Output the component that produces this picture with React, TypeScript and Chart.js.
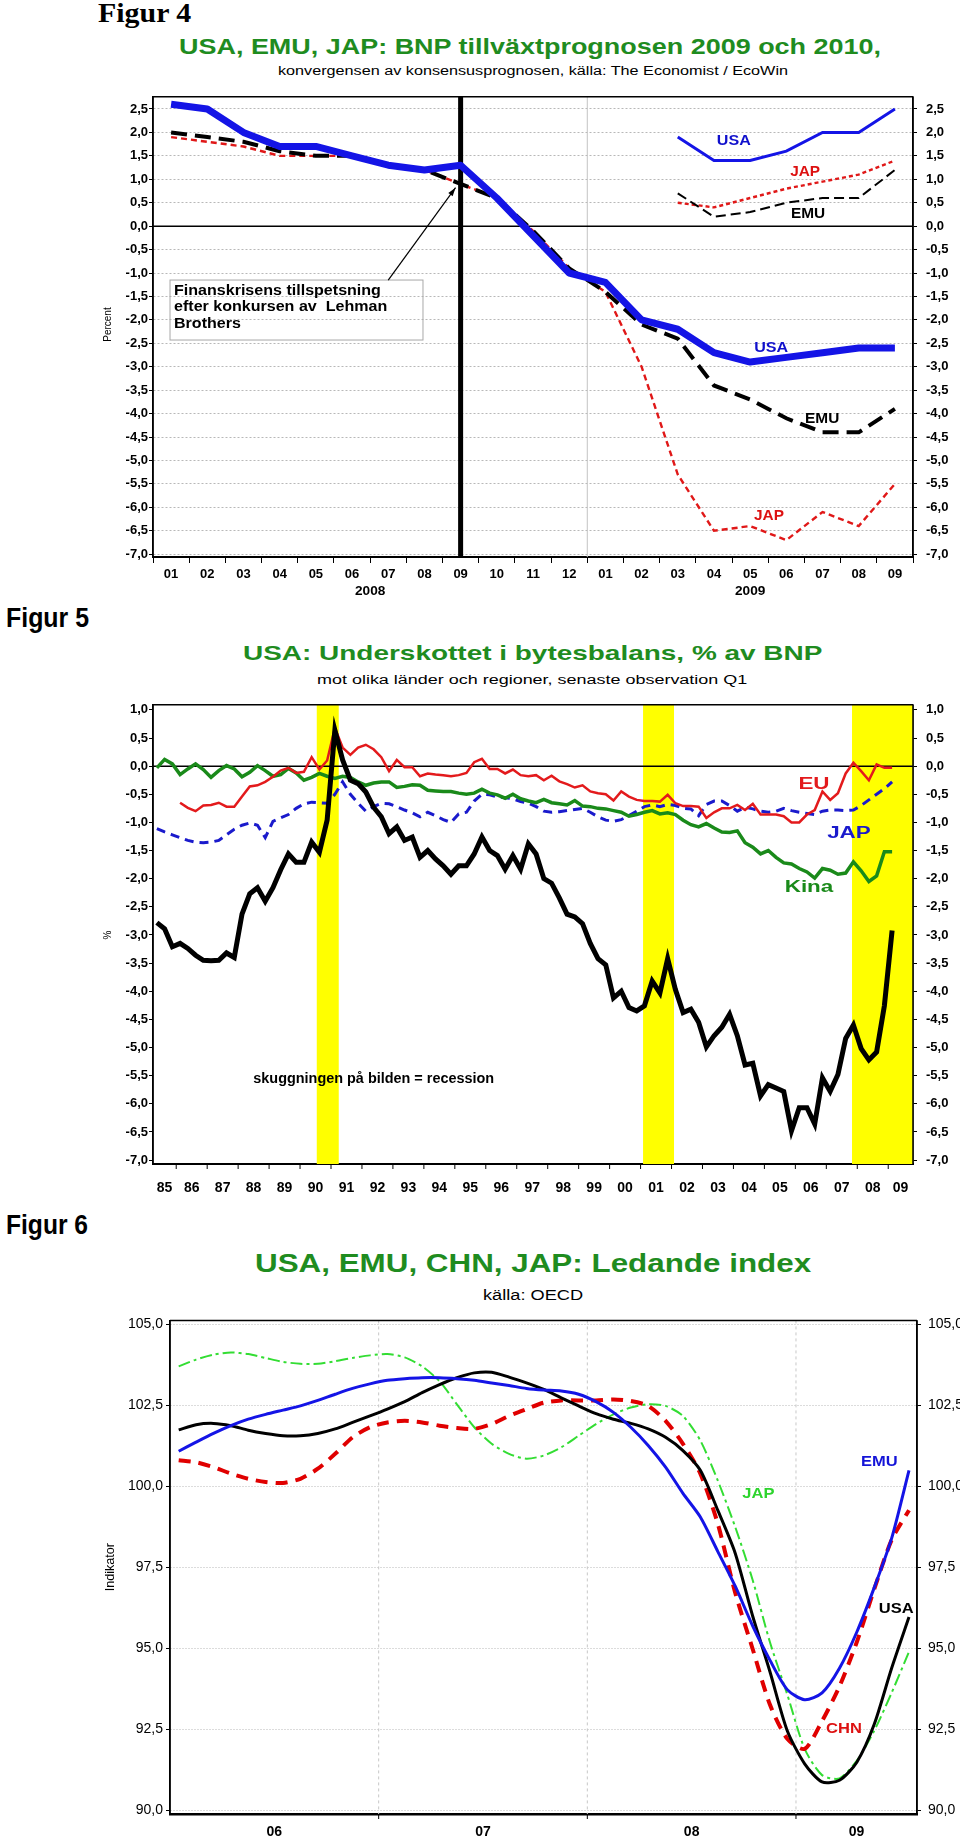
import React, { useEffect, useLayoutEffect, useRef } from 'react';
import { Chart, registerables } from 'chart.js';

Chart.register(...registerables);

const SANS = "'Liberation Sans', Arial, Helvetica, sans-serif";
const SERIF = "'Liberation Serif', 'Times New Roman', serif";
const TITLE_GREEN = '#1f8c1f';

/* ================= Figur 4 data ================= */
const months4 = ['01', '02', '03', '04', '05', '06', '07', '08', '09', '10', '11', '12', '01', '02', '03', '04', '05', '06', '07', '08', '09'];
const years4 = ['2008', '2009'];
const yearFirstIdx4 = [0, 12];
const yearLastIdx4 = [11, 20];
const usa2009 = [2.6, 2.5, 2.0, 1.7, 1.7, 1.5, 1.3, 1.2, 1.3, 0.6, -0.2, -1.0, -1.2, -2.0, -2.2, -2.7, -2.9, -2.8, -2.7, -2.6, -2.6];
const emu2009 = [2.0, 1.9, 1.8, 1.6, 1.5, 1.5, 1.3, 1.2, 0.9, 0.6, -0.1, -0.9, -1.4, -2.1, -2.4, -3.4, -3.7, -4.1, -4.4, -4.4, -3.9];
const jap2009 = [1.9, 1.8, 1.7, 1.5, 1.5, 1.5, 1.3, 1.2, 0.9, 0.6, -0.1, -0.9, -1.4, -3.0, -5.3, -6.5, -6.4, -6.7, -6.1, -6.4, -5.5];
const first2010 = 14; // 2010 forecasts start in 03 2009
const usa2010 = [1.9, 1.4, 1.4, 1.6, 2.0, 2.0, 2.5];
const jap2010 = [0.5, 0.4, 0.6, 0.8, 0.95, 1.1, 1.4];
const emu2010 = [0.7, 0.2, 0.3, 0.5, 0.6, 0.6, 1.2];
const lehmanIdx4 = 8;
const yTicks4 = [2.5, 2.0, 1.5, 1.0, 0.5, 0, -0.5, -1.0, -1.5, -2.0, -2.5, -3.0, -3.5, -4.0, -4.5, -5.0, -5.5, -6.0, -6.5, -7.0];
const noteLines4 = ['Finanskrisens tillspetsning', 'efter konkursen av  Lehman', 'Brothers'];

/* ================= Figur 5 data (quarterly, 1985Q2 - 2009Q1) ================= */
const firstQuarter5 = 1985.25; // 1985 Q2
const total5 = [-2.78, -2.89, -3.21, -3.15, -3.24, -3.36, -3.45, -3.46, -3.45, -3.32, -3.40, -2.63, -2.27, -2.16, -2.40, -2.16, -1.84, -1.56, -1.71, -1.71, -1.35, -1.53, -0.96, 0.64, 0.11, -0.25, -0.31, -0.46, -0.73, -0.90, -1.20, -1.08, -1.32, -1.26, -1.62, -1.50, -1.65, -1.77, -1.92, -1.77, -1.77, -1.56, -1.26, -1.50, -1.59, -1.83, -1.59, -1.83, -1.38, -1.56, -2.00, -2.08, -2.34, -2.63, -2.68, -2.80, -3.15, -3.42, -3.53, -4.12, -4.00, -4.29, -4.35, -4.26, -3.82, -4.03, -3.42, -3.97, -4.38, -4.32, -4.55, -4.99, -4.79, -4.64, -4.41, -4.79, -5.31, -5.28, -5.86, -5.66, -5.72, -5.78, -6.48, -6.07, -6.07, -6.36, -5.54, -5.78, -5.48, -4.84, -4.60, -5.02, -5.22, -5.08, -4.26, -2.92];
const kina5 = [-0.03, 0.12, 0.04, -0.15, -0.05, 0.04, -0.06, -0.2, -0.08, 0.01, -0.05, -0.19, -0.11, 0.01, -0.08, -0.18, -0.15, -0.04, -0.12, -0.25, -0.2, -0.13, -0.18, -0.22, -0.18, -0.2, -0.28, -0.34, -0.3, -0.28, -0.28, -0.38, -0.36, -0.33, -0.34, -0.43, -0.44, -0.45, -0.45, -0.48, -0.5, -0.48, -0.41, -0.48, -0.51, -0.57, -0.5, -0.58, -0.62, -0.65, -0.59, -0.65, -0.67, -0.69, -0.61, -0.71, -0.72, -0.75, -0.76, -0.79, -0.82, -0.89, -0.86, -0.82, -0.79, -0.85, -0.83, -0.86, -0.96, -1.04, -1.08, -1.02, -1.10, -1.17, -1.18, -1.15, -1.36, -1.44, -1.56, -1.5, -1.62, -1.72, -1.74, -1.82, -1.88, -1.99, -1.82, -1.85, -1.92, -1.9, -1.7, -1.86, -2.05, -1.95, -1.52, -1.52];
const euStart5 = 3; // EU series begins 1986 Q1
const eu5 = [-0.65, -0.74, -0.80, -0.70, -0.69, -0.65, -0.72, -0.72, -0.54, -0.36, -0.34, -0.28, -0.19, -0.08, -0.03, -0.12, -0.10, 0.16, -0.06, 0.10, 0.68, 0.33, 0.2, 0.33, 0.38, 0.3, 0.16, -0.09, 0.11, -0.02, -0.02, -0.18, -0.13, -0.15, -0.16, -0.18, -0.16, -0.12, 0.07, 0.13, -0.05, -0.05, -0.13, -0.06, -0.16, -0.18, -0.16, -0.25, -0.17, -0.27, -0.32, -0.38, -0.34, -0.45, -0.48, -0.5, -0.61, -0.45, -0.54, -0.6, -0.62, -0.62, -0.63, -0.51, -0.66, -0.71, -0.71, -0.72, -0.92, -0.82, -0.75, -0.75, -0.69, -0.78, -0.67, -0.86, -0.86, -0.86, -0.89, -1.0, -1.0, -0.86, -0.78, -0.45, -0.6, -0.48, -0.13, 0.06, -0.09, -0.25, 0.03, -0.03, -0.03];
const jap5 = [-1.11, -1.17, -1.22, -1.27, -1.32, -1.35, -1.36, -1.35, -1.32, -1.22, -1.12, -1.05, -1.01, -1.05, -1.27, -0.98, -0.92, -0.86, -0.75, -0.67, -0.64, -0.65, -0.66, -0.5, -0.28, -0.5, -0.66, -0.8, -0.72, -0.66, -0.67, -0.72, -0.78, -0.83, -0.9, -0.82, -0.88, -0.95, -1.0, -0.85, -0.82, -0.62, -0.5, -0.51, -0.55, -0.56, -0.58, -0.63, -0.66, -0.72, -0.8, -0.82, -0.81, -0.79, -0.77, -0.75, -0.82, -0.9, -0.96, -0.98, -0.95, -0.88, -0.8, -0.72, -0.69, -0.72, -0.68, -0.7, -0.75, -0.76, -0.88, -0.68, -0.62, -0.62, -0.7, -0.8, -0.73, -0.76, -0.8, -0.82, -0.8, -0.75, -0.79, -0.82, -0.84, -0.86, -0.8, -0.78, -0.78, -0.79, -0.78, -0.7, -0.6, -0.5, -0.4, -0.28];
const recessions5 = [[1990.54, 1991.25], [2001.08, 2002.08], [2007.83, 2009.8]];
const firstYear5 = 1985;
const yearLabels5 = ['85', '86', '87', '88', '89', '90', '91', '92', '93', '94', '95', '96', '97', '98', '99', '00', '01', '02', '03', '04', '05', '06', '07', '08', '09'];
const yTicks5 = [1.0, 0.5, 0, -0.5, -1.0, -1.5, -2.0, -2.5, -3.0, -3.5, -4.0, -4.5, -5.0, -5.5, -6.0, -6.5, -7.0];

/* ================= Figur 6 data (monthly, Jan 2006 - Jul 2009) ================= */
const firstMonth6 = 2006;
const usa6 = [101.74, 101.9, 101.94, 101.87, 101.73, 101.63, 101.56, 101.56, 101.63, 101.77, 101.97, 102.17, 102.38, 102.61, 102.89, 103.14, 103.35, 103.5, 103.52, 103.37, 103.19, 102.99, 102.73, 102.48, 102.24, 102.07, 101.94, 101.77, 101.51, 101.1, 100.49, 99.26, 97.94, 96.01, 94.28, 92.45, 91.43, 90.87, 90.92, 91.48, 92.65, 94.38, 95.96];
const emu6 = [101.08, 101.36, 101.63, 101.87, 102.07, 102.22, 102.35, 102.48, 102.65, 102.84, 103.02, 103.16, 103.27, 103.32, 103.35, 103.35, 103.32, 103.27, 103.19, 103.11, 103.02, 102.97, 102.94, 102.84, 102.61, 102.28, 101.82, 101.26, 100.59, 99.78, 99.05, 97.99, 96.92, 95.7, 94.63, 93.72, 93.41, 93.62, 94.38, 95.5, 96.87, 98.39, 100.49];
const jap6 = [103.7, 103.91, 104.06, 104.13, 104.08, 103.96, 103.84, 103.78, 103.78, 103.86, 103.96, 104.04, 104.08, 103.98, 103.7, 103.24, 102.53, 101.82, 101.31, 101.0, 100.85, 100.95, 101.2, 101.56, 101.92, 102.22, 102.43, 102.53, 102.48, 102.17, 101.41, 100.18, 98.75, 97.12, 95.19, 93.57, 91.89, 91.08, 90.98, 91.53, 92.45, 93.62, 94.89];
const chn6 = [100.8, 100.74, 100.59, 100.39, 100.23, 100.13, 100.1, 100.23, 100.54, 101.0, 101.51, 101.82, 101.97, 102.02, 101.97, 101.87, 101.8, 101.77, 101.92, 102.17, 102.38, 102.58, 102.65, 102.65, 102.65, 102.68, 102.63, 102.48, 102.02, 101.31, 100.39, 98.85, 96.72, 94.99, 93.26, 92.2, 91.89, 92.75, 93.82, 95.19, 96.82, 98.34, 99.26];
const firstYear6 = 2006;
const yearLabels6 = ['06', '07', '08', '09'];
const yTicks6 = [105, 102.5, 100, 97.5, 95, 92.5, 90];

/* ================= helpers ================= */
const fmt1 = (v: number) => Number(v).toFixed(1).replace('.', ',');

function seg(ctx: any, x1: number, y1: number, x2: number, y2: number, color: string, width: number, dash: number[] = []) {
  ctx.save();
  ctx.beginPath();
  ctx.strokeStyle = color;
  ctx.lineWidth = width;
  ctx.setLineDash(dash);
  ctx.moveTo(x1, y1);
  ctx.lineTo(x2, y2);
  ctx.stroke();
  ctx.restore();
}

function txt(ctx: any, text: string, x: number, y: number, font: string, color: string, align: string = 'center', stretch = 1, rotate = 0) {
  ctx.save();
  ctx.translate(x, y);
  if (rotate) ctx.rotate(rotate);
  ctx.scale(stretch, 1);
  ctx.font = font;
  ctx.fillStyle = color;
  ctx.textAlign = align;
  ctx.textBaseline = 'middle';
  ctx.fillText(text, 0, 0);
  ctx.restore();
}

function frame(ctx: any, a: any) {
  seg(ctx, a.left, a.top, a.right, a.top, '#000', 1.5);
  seg(ctx, a.left, a.top, a.left, a.bottom, '#000', 1.5);
  seg(ctx, a.right, a.top, a.right, a.bottom, '#000', 1.5);
}

function yearCenters(first: number, count: number, min: number, max: number) {
  const out: number[] = [];
  for (let k = 0; k < count; k++) {
    const a = Math.max(first + k, min);
    const b = Math.min(first + k + 1, max);
    out.push((a + b) / 2);
  }
  return out;
}

function yAxis(opts: any) {
  return {
    position: opts.position,
    min: opts.min,
    max: opts.max,
    afterBuildTicks: (s: any) => { s.ticks = opts.ticks.map((v: number) => ({ value: v })); },
    afterFit: (s: any) => { s.width = opts.width; },
    ticks: { callback: (v: any) => fmt1(v), font: opts.font, color: '#000', padding: opts.padding, autoSkip: false },
    grid: {
      drawOnChartArea: !!opts.grid,
      color: (c: any) => (c.tick && Math.abs(c.tick.value) < 1e-9 && opts.hideZero ? 'rgba(0,0,0,0)' : '#b8b8b8'),
      lineWidth: 1,
      drawTicks: true,
      tickLength: 4,
      tickColor: '#000',
      tickWidth: 1,
    },
    border: { display: true, color: '#000', width: 1.5, dash: opts.dash || [] },
  };
}

const baseOpts = (padTop: number) => ({
  animation: false,
  responsive: false,
  devicePixelRatio: 1,
  layout: { padding: { top: padTop, left: 0, right: 0, bottom: 0 } },
  plugins: { legend: { display: false }, tooltip: { enabled: false }, title: { display: false } },
  elements: { point: { radius: 0 }, line: { tension: 0 } },
});

/* ================= Figur 4 chart ================= */
const C4 = { top: 80, height: 520, plotTop: 91, plotBottom: 557, left: 153, right: 913 };

const pad2010 = (vals: number[]) => months4.map((_, i) => (i >= first2010 ? vals[i - first2010] : null));

const fig4Plugin = {
  id: 'fig4',
  beforeDatasetsDraw(chart: any) {
    const { ctx, chartArea: a, scales } = chart;
    const x = scales.x, y = scales.y;
    const xb = (x.getPixelForValue(yearLastIdx4[0]) + x.getPixelForValue(yearFirstIdx4[1])) / 2;
    seg(ctx, xb, a.top, xb, a.bottom, '#c4c4c4', 1);
    const y0 = y.getPixelForValue(0);
    seg(ctx, a.left, y0, a.right, y0, '#000', 1.5);
    const xl = x.getPixelForValue(lehmanIdx4);
    seg(ctx, xl, a.top, xl, a.bottom, '#000', 5);
  },
  afterDraw(chart: any) {
    const { ctx, chartArea: a, scales } = chart;
    const x = scales.x, y = scales.y;
    frame(ctx, a);
    const bold = (s: number) => `bold ${s}px ${SANS}`;
    // series labels
    txt(ctx, 'USA', x.getPixelForValue(15.55), y.getPixelForValue(1.81), bold(14), '#1010cc', 'center', 1.15);
    txt(ctx, 'JAP', x.getPixelForValue(17.52), y.getPixelForValue(1.15), bold(14), '#dd1111', 'center', 1.1);
    txt(ctx, 'EMU', x.getPixelForValue(17.6), y.getPixelForValue(0.25), bold(14), '#000', 'center', 1.1);
    txt(ctx, 'USA', x.getPixelForValue(16.58), y.getPixelForValue(-2.6), bold(14), '#1010cc', 'center', 1.15);
    txt(ctx, 'EMU', x.getPixelForValue(17.99), y.getPixelForValue(-4.11), bold(14), '#000', 'center', 1.1);
    txt(ctx, 'JAP', x.getPixelForValue(16.52), y.getPixelForValue(-6.18), bold(14), '#dd1111', 'center', 1.1);
    // note box
    const bx1 = x.getPixelForValue(-0.03), bx2 = x.getPixelForValue(6.96);
    const by1 = y.getPixelForValue(-1.15), by2 = y.getPixelForValue(-2.43);
    ctx.save();
    ctx.strokeStyle = '#a8a8a8';
    ctx.lineWidth = 1;
    ctx.strokeRect(bx1, by1, bx2 - bx1, by2 - by1);
    ctx.restore();
    noteLines4.forEach((line, k) => {
      txt(ctx, line, bx1 + 4, by1 + 11 + k * 16.3, bold(15), '#000', 'left', 1.07);
    });
    // arrow to the Lehman point
    const tx = x.getPixelForValue(6.0), ty = by1;
    const hx = x.getPixelForValue(lehmanIdx4 - 0.14), hy = y.getPixelForValue(jap2009[lehmanIdx4] - 0.08);
    seg(ctx, tx, ty, hx, hy, '#000', 1.2);
    const ang = Math.atan2(hy - ty, hx - tx);
    ctx.save();
    ctx.fillStyle = '#000';
    ctx.beginPath();
    ctx.moveTo(hx, hy);
    ctx.lineTo(hx - 9 * Math.cos(ang - 0.3), hy - 9 * Math.sin(ang - 0.3));
    ctx.lineTo(hx - 9 * Math.cos(ang + 0.3), hy - 9 * Math.sin(ang + 0.3));
    ctx.closePath();
    ctx.fill();
    ctx.restore();
    // year labels under the month ticks
    years4.forEach((yr, k) => {
      const cx = (x.getPixelForValue(yearFirstIdx4[k]) + x.getPixelForValue(yearLastIdx4[k])) / 2;
      txt(ctx, yr, cx, a.bottom + 34, bold(13), '#000', 'center', 1.05);
    });
    // y title
    txt(ctx, 'Percent', a.left - 45, y.getPixelForValue(-2.1), `10px ${SANS}`, '#000', 'center', 1, -Math.PI / 2);
  },
};

function cfg4(): any {
  const tickFont = { family: SANS, size: 13, weight: 'bold' };
  return {
    type: 'line',
    data: {
      labels: months4,
      datasets: [
        { data: usa2009, borderColor: '#1414e6', borderWidth: 7, borderJoinStyle: 'round' },
        { data: pad2010(usa2010), borderColor: '#1414e6', borderWidth: 3 },
        { data: emu2009, borderColor: '#000', borderWidth: 4, borderDash: [16, 8] },
        { data: pad2010(emu2010), borderColor: '#000', borderWidth: 2, borderDash: [10, 5] },
        { data: jap2009, borderColor: '#e01818', borderWidth: 2.4, borderDash: [6, 4] },
        { data: pad2010(jap2010), borderColor: '#e01818', borderWidth: 2.4, borderDash: [4, 3] },
      ],
    },
    options: {
      ...baseOpts(C4.plotTop - C4.top),
      scales: {
        x: {
          type: 'category',
          offset: true,
          grid: { offset: true, drawOnChartArea: false, drawTicks: true, tickLength: 6, tickColor: '#000', tickWidth: 1 },
          border: { display: true, color: '#000', width: 2 },
          ticks: { font: tickFont, color: '#000', padding: 4, maxRotation: 0, autoSkip: false },
          afterFit: (s: any) => { s.height = C4.top + C4.height - C4.plotBottom; },
        },
        y: yAxis({ position: 'left', min: -7.06, max: 2.76, ticks: yTicks4, width: C4.left, padding: 1, font: tickFont, grid: true, hideZero: true, dash: [2, 2] }),
        y2: yAxis({ position: 'right', min: -7.06, max: 2.76, ticks: yTicks4, width: 960 - C4.right, padding: 9, font: tickFont, grid: false }),
      },
    },
    plugins: [fig4Plugin],
  };
}

/* ================= Figur 5 chart ================= */
const C5 = { top: 688, height: 508, plotTop: 698, plotBottom: 1164, left: 153, right: 913, xMin: 1985.25, xMax: 2009.8 };
const qTime = (i: number) => firstQuarter5 + i * 0.25 + 0.125;

const fig5Plugin = {
  id: 'fig5',
  beforeDatasetsDraw(chart: any) {
    const { ctx, chartArea: a, scales } = chart;
    const x = scales.x, y = scales.y;
    ctx.save();
    ctx.fillStyle = '#ffff00';
    recessions5.forEach(([s, e]) => {
      const x1 = Math.max(a.left, x.getPixelForValue(s));
      const x2 = Math.min(a.right, x.getPixelForValue(e));
      ctx.fillRect(x1, a.top, x2 - x1, a.bottom - a.top);
    });
    ctx.restore();
    const y0 = y.getPixelForValue(0);
    seg(ctx, a.left, y0, a.right, y0, '#000', 1.5);
  },
  afterDraw(chart: any) {
    const { ctx, chartArea: a, scales } = chart;
    const x = scales.x, y = scales.y;
    frame(ctx, a);
    for (let k = 1; k < yearLabels5.length; k++) {
      const px = x.getPixelForValue(firstYear5 + k);
      seg(ctx, px, a.bottom, px, a.bottom + 5, '#000', 1);
    }
    const heavy = (s: number) => `900 ${s}px ${SANS}`;
    txt(ctx, 'EU', x.getPixelForValue(2006.6), y.getPixelForValue(-0.32), heavy(16), '#e31a1c', 'center', 1.4);
    txt(ctx, 'JAP', x.getPixelForValue(2007.73), y.getPixelForValue(-1.19), heavy(16), '#1a1acc', 'center', 1.4);
    txt(ctx, 'Kina', x.getPixelForValue(2006.44), y.getPixelForValue(-2.15), heavy(16), '#1a8a1a', 'center', 1.4);
    txt(ctx, 'skuggningen på bilden = recession', x.getPixelForValue(1992.38), y.getPixelForValue(-5.57), `bold 14px ${SANS}`, '#000', 'center', 1.03);
    txt(ctx, '%', a.left - 45, y.getPixelForValue(-3.0), `10px ${SANS}`, '#000', 'center', 1, -Math.PI / 2);
  },
};

function cfg5(): any {
  const tickFont = { family: SANS, size: 13, weight: 'bold' };
  const centers = yearCenters(firstYear5, yearLabels5.length, C5.xMin, C5.xMax);
  const pts = (vals: number[], start = 0) => vals.map((v, i) => ({ x: qTime(i + start), y: v }));
  return {
    type: 'line',
    data: {
      datasets: [
        { data: pts(total5), borderColor: '#000', borderWidth: 5 },
        { data: pts(eu5, euStart5), borderColor: '#e31a1c', borderWidth: 2.5 },
        { data: pts(kina5), borderColor: '#1a8a1a', borderWidth: 3.5 },
        { data: pts(jap5), borderColor: '#1a1acc', borderWidth: 3, borderDash: [9, 6] },
      ],
    },
    options: {
      ...baseOpts(C5.plotTop - C5.top),
      scales: {
        x: {
          type: 'linear',
          min: C5.xMin,
          max: C5.xMax,
          afterBuildTicks: (s: any) => { s.ticks = centers.map((v) => ({ value: v })); },
          ticks: { callback: (_v: any, i: number) => yearLabels5[i], font: { family: SANS, size: 14, weight: 'bold' }, color: '#000', padding: 8, maxRotation: 0, autoSkip: false },
          grid: { display: false },
          border: { display: true, color: '#000', width: 2 },
          afterFit: (s: any) => { s.height = C5.top + C5.height - C5.plotBottom; },
        },
        y: yAxis({ position: 'left', min: -7.07, max: 1.09, ticks: yTicks5, width: C5.left, padding: 1, font: tickFont, grid: false }),
        y2: yAxis({ position: 'right', min: -7.07, max: 1.09, ticks: yTicks5, width: 960 - C5.right, padding: 9, font: tickFont, grid: false }),
      },
    },
    plugins: [fig5Plugin],
  };
}

/* ================= Figur 6 chart ================= */
const C6 = { top: 1305, height: 534, plotTop: 1315, plotBottom: 1814, left: 170, right: 917, xMin: 2006, xMax: 2009.58 };
const mTime = (m: number) => firstMonth6 + (m + 0.5) / 12;

const fig6Plugin = {
  id: 'fig6',
  beforeDatasetsDraw(chart: any) {
    const { ctx, chartArea: a, scales } = chart;
    const x = scales.x;
    for (let k = 1; k < yearLabels6.length; k++) {
      const px = x.getPixelForValue(firstYear6 + k);
      seg(ctx, px, a.top, px, a.bottom, '#c8c8c8', 1, [3, 3]);
    }
  },
  afterDraw(chart: any) {
    const { ctx, chartArea: a, scales } = chart;
    const x = scales.x, y = scales.y;
    frame(ctx, a);
    for (let k = 1; k < yearLabels6.length; k++) {
      const px = x.getPixelForValue(firstYear6 + k);
      seg(ctx, px, a.bottom, px, a.bottom + 5, '#000', 1);
    }
    const f = `bold 15px ${SANS}`;
    txt(ctx, 'EMU', x.getPixelForValue(2009.4), y.getPixelForValue(100.76), f, '#1414d8', 'center', 1.1);
    txt(ctx, 'JAP', x.getPixelForValue(2008.82), y.getPixelForValue(99.76), f, '#2ed42e', 'center', 1.1);
    txt(ctx, 'USA', x.getPixelForValue(2009.48), y.getPixelForValue(96.22), f, '#000', 'center', 1.1);
    txt(ctx, 'CHN', x.getPixelForValue(2009.23), y.getPixelForValue(92.5), f, '#dd1111', 'center', 1.1);
    txt(ctx, 'Indikator', a.left - 59, y.getPixelForValue(97.5), `12px ${SANS}`, '#000', 'center', 1.05, -Math.PI / 2);
  },
};

function cfg6(): any {
  const tickFont = { family: SANS, size: 14 };
  const centers = yearCenters(firstYear6, yearLabels6.length, C6.xMin, C6.xMax);
  const pts = (vals: number[]) => vals.map((v, m) => ({ x: mTime(m), y: v }));
  return {
    type: 'line',
    data: {
      datasets: [
        { data: pts(emu6), borderColor: '#1414e6', borderWidth: 3, tension: 0.25 },
        { data: pts(usa6), borderColor: '#000', borderWidth: 3, tension: 0.25 },
        { data: pts(chn6), borderColor: '#e00000', borderWidth: 4, borderDash: [12, 8], tension: 0.25 },
        { data: pts(jap6), borderColor: '#33dd33', borderWidth: 2, borderDash: [12, 4, 3, 4], tension: 0.25 },
      ],
    },
    options: {
      ...baseOpts(C6.plotTop - C6.top),
      scales: {
        x: {
          type: 'linear',
          min: C6.xMin,
          max: C6.xMax,
          afterBuildTicks: (s: any) => { s.ticks = centers.map((v) => ({ value: v })); },
          ticks: { callback: (_v: any, i: number) => yearLabels6[i], font: { family: SANS, size: 14, weight: 'bold' }, color: '#000', padding: 2, maxRotation: 0, autoSkip: false },
          grid: { display: false },
          border: { display: true, color: '#000', width: 2.5 },
          afterFit: (s: any) => { s.height = C6.top + C6.height - C6.plotBottom; },
        },
        y: yAxis({ position: 'left', min: 89.88, max: 105.12, ticks: yTicks6, width: C6.left, padding: 3, font: tickFont, grid: true, dash: [1, 2] }),
        y2: yAxis({ position: 'right', min: 89.88, max: 105.12, ticks: yTicks6, width: 960 - C6.right, padding: 7, font: tickFont, grid: false }),
      },
    },
    plugins: [fig6Plugin],
  };
}

/* ================= HTML text ================= */
function FitText(props: { text: string; left: number; width: number; baseline: number; size: number; weight?: string; family?: string; color?: string }) {
  const ref = useRef<HTMLSpanElement>(null);
  const { text, left, width, baseline, size, weight = 'normal', family = SANS, color = '#000' } = props;
  useLayoutEffect(() => {
    const el = ref.current;
    if (!el) return;
    const w = el.offsetWidth;
    if (w > 0) el.style.transform = `scaleX(${width / w})`;
  }, [text, width]);
  return (
    <span
      ref={ref}
      style={{
        position: 'absolute',
        left,
        top: baseline - size * 0.845,
        fontFamily: family,
        fontWeight: weight as any,
        fontSize: size,
        lineHeight: `${size}px`,
        whiteSpace: 'nowrap',
        transformOrigin: '0 0',
        color,
      }}
    >
      {text}
    </span>
  );
}

export default function App() {
  const r4 = useRef<HTMLCanvasElement>(null);
  const r5 = useRef<HTMLCanvasElement>(null);
  const r6 = useRef<HTMLCanvasElement>(null);

  useEffect(() => {
    document.body.style.margin = '0';
    const charts = [new Chart(r4.current as any, cfg4()), new Chart(r5.current as any, cfg5()), new Chart(r6.current as any, cfg6())];
    return () => charts.forEach((c) => c.destroy());
  }, []);

  const cv = (top: number, height: number): any => ({ position: 'absolute', left: 0, top, width: 960, height });

  return (
    <div style={{ position: 'absolute', left: 0, top: 0, width: 960, height: 1839, overflow: 'hidden', background: '#fff' }}>
      <FitText text="Figur 4" left={98} width={93} baseline={23} size={27} weight="bold" family={SERIF} />
      <FitText text="USA, EMU, JAP: BNP tillväxtprognosen 2009 och 2010," left={179} width={702} baseline={55} size={22} weight="bold" color={TITLE_GREEN} />
      <FitText text="konvergensen av konsensusprognosen, källa: The Economist / EcoWin" left={278} width={510} baseline={75} size={12} />

      <FitText text="Figur 5" left={6} width={83} baseline={628} size={27} weight="bold" />
      <FitText text="USA: Underskottet i bytesbalans, % av BNP" left={243} width={579} baseline={660} size={21} weight="bold" color={TITLE_GREEN} />
      <FitText text="mot olika länder och regioner, senaste observation Q1" left={317} width={431} baseline={684} size={12} />

      <FitText text="Figur 6" left={6} width={82} baseline={1235} size={27} weight="bold" />
      <FitText text="USA, EMU, CHN, JAP: Ledande index" left={255} width={556} baseline={1272} size={25} weight="bold" color={TITLE_GREEN} />
      <FitText text="källa: OECD" left={483} width={100} baseline={1300} size={14} />

      <canvas ref={r4} width={960} height={C4.height} style={cv(C4.top, C4.height)} />
      <canvas ref={r5} width={960} height={C5.height} style={cv(C5.top, C5.height)} />
      <canvas ref={r6} width={960} height={C6.height} style={cv(C6.top, C6.height)} />
    </div>
  );
}
